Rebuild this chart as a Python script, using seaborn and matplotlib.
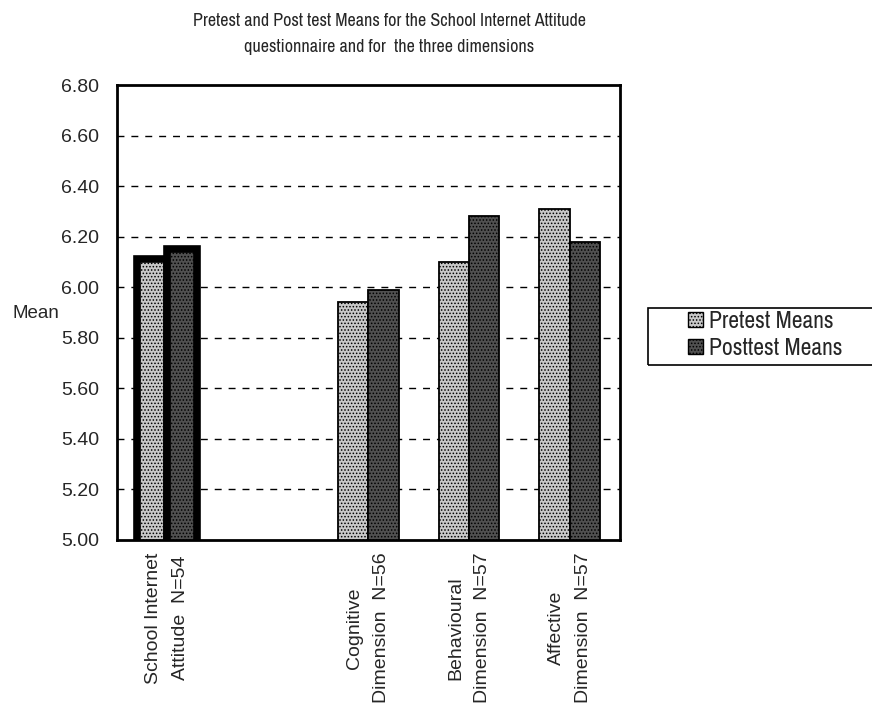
import numpy as np
import pandas as pd
import matplotlib
matplotlib.use("Agg")
import matplotlib.pyplot as plt
from matplotlib.patches import Patch, Rectangle
import seaborn as sns

categories = ["School Internet\nAttitude  N=54", " ", "Cognitive\nDimension  N=56",
              "Behavioural\nDimension  N=57", "Affective\nDimension  N=57"]
pretest = [6.11, np.nan, 5.94, 6.10, 6.31]
posttest = [6.15, np.nan, 5.99, 6.28, 6.18]
series_names = ["Pretest Means", "Posttest Means"]
y_ticks = [5.00, 5.20, 5.40, 5.60, 5.80, 6.00, 6.20, 6.40, 6.60, 6.80]

title = "Pretest and Post test Means for the School Internet Attitude\nquestionnaire and for  the three dimensions"

sns.set_theme(style="white")
plt.rcParams['font.family'] = ['Liberation Sans', 'DejaVu Sans']
plt.rcParams['hatch.linewidth'] = 0.7
narrow = ['Archivo Narrow', 'Liberation Sans', 'DejaVu Sans']

rows = []
for c, a, b in zip(categories, pretest, posttest):
    rows.append({"cat": c, "series": series_names[0], "val": a})
    rows.append({"cat": c, "series": series_names[1], "val": b})
df = pd.DataFrame(rows).dropna()

colors = {series_names[0]: "#c8c8c8", series_names[1]: "#505050"}
hatches = {series_names[0]: ".....", series_names[1]: "....."}

fig = plt.figure(figsize=(8.72, 7.07), dpi=100)
ax = fig.add_axes([116.7 / 872, 1 - 540 / 707, (620 - 116.7) / 872, (540 - 85) / 707])

sns.barplot(data=df, x="cat", y="val", hue="series", order=categories,
            hue_order=series_names, palette=colors, width=0.6, gap=0,
            saturation=1, edgecolor="black", linewidth=1.3, ax=ax, errorbar=None)

for cont, name in zip(ax.containers, series_names):
    for bar in cont:
        bar.set_hatch(hatches[name])
        cx = bar.get_x() + bar.get_width() / 2
        if cx < 0.5:
            bar.set_linewidth(5.5)

ax.set_ylim(5.0, 6.8)
ax.set_xlim(-0.5, 4.5)
ax.set_yticks(y_ticks)
ax.set_yticklabels([f"{v:.2f}" for v in y_ticks], fontsize=14)
ax.set_xticks(range(len(categories)))
ax.set_xticklabels(categories, rotation=90, fontsize=14, ha="center", va="top",
                   multialignment="center", linespacing=1.75)
ax.set_xticks([0.5, 1.5, 2.5, 3.5], minor=True)
ax.tick_params(axis="x", which="major", length=0, pad=9)
ax.tick_params(axis="x", which="minor", length=7, width=1.2, direction="inout", color="black")
ax.tick_params(axis="y", which="major", length=5, width=1, direction="inout", color="black", pad=10)
ax.set_xlabel("")
ax.set_ylabel("")

for v in y_ticks[1:-1]:
    ax.axhline(v, color="black", lw=1, ls=(0, (5, 5)), zorder=0.5)

for s in ax.spines.values():
    s.set_visible(True)
    s.set_color("black")
    s.set_linewidth(2)

if ax.get_legend() is not None:
    ax.get_legend().remove()

handles = [Patch(facecolor=colors[n], edgecolor="black", hatch=hatches[n], label=n) for n in series_names]
leg = fig.legend(handles=handles, loc="upper left", bbox_to_anchor=(688 / 872, 1 - 311 / 707),
                 bbox_transform=fig.transFigure, prop={'family': narrow, 'size': 17},
                 frameon=False, handlelength=0.65, handleheight=0.6, handletextpad=0.25,
                 borderpad=0, labelspacing=0.24, borderaxespad=0)
fig.patches.append(Rectangle((648 / 872, 1 - 365 / 707), (900 - 648) / 872, 57 / 707,
                             transform=fig.transFigure, fill=False, edgecolor="black", lw=1.2))

fig.text(12 / 872, 1 - 314 / 707, "Mean", ha="left", va="center", fontsize=13.5)
fig.text(389 / 872, 1 - 13 / 707, title, ha="center", va="top", fontsize=13,
         linespacing=1.8, family=narrow)

fig.savefig("out.png", dpi=100)
